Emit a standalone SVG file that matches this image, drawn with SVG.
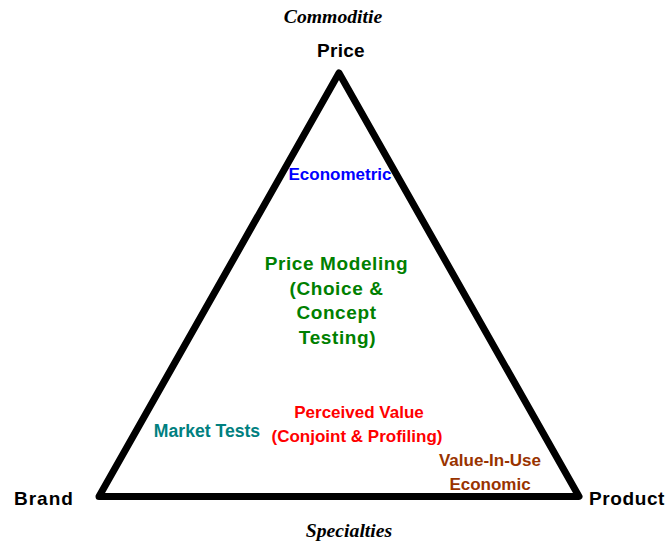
<svg xmlns="http://www.w3.org/2000/svg" width="667" height="543" viewBox="0 0 667 543">
  <style>
    .corner { font-family: "Liberation Sans", Arial, sans-serif; font-weight: bold; font-size: 19px; fill: #000; }
    .pole { font-family: "Liberation Serif", "Times New Roman", serif; font-weight: bold; font-style: italic; font-size: 19.7px; fill: #000; }
    .method { font-family: "Liberation Sans", Arial, sans-serif; font-weight: bold; font-size: 17px; }
    .big { font-size: 19px; letter-spacing: 0.6px; }
    .mid { text-anchor: middle; }
    .edge { fill: none; stroke: #000; stroke-width: 7; stroke-linejoin: round; }
  </style>
  <rect width="667" height="543" fill="#fff"/>

  <!-- pricing triangle -->
  <g id="connectors">
    <polygon class="edge" points="339,73 579,496.5 99,496.5"/>
  </g>

  <!-- vertices -->
  <g id="node-price">
    <text class="pole mid" x="333" y="23">Commoditie</text>
    <text class="corner mid" x="341" y="57" letter-spacing="0.3">Price</text>
  </g>
  <g id="node-brand">
    <text class="corner" x="14" y="505" letter-spacing="1">Brand</text>
  </g>
  <g id="node-product">
    <text class="corner" x="589" y="505" letter-spacing="0.6">Product</text>
    <text class="pole mid" x="349" y="537">Specialties</text>
  </g>

  <!-- methods inside the triangle -->
  <g id="node-econometric">
    <text class="method mid" x="340" y="180" fill="#0000ff">Econometric</text>
  </g>
  <g id="node-price-modeling" fill="#008000">
    <text class="method big mid" x="336.5" y="270">Price Modeling</text>
    <text class="method big mid" x="336.5" y="294.5">(Choice &amp;</text>
    <text class="method big mid" x="336.5" y="319">Concept</text>
    <text class="method big mid" x="337.5" y="343.5">Testing)</text>
  </g>
  <g id="node-market-tests">
    <text class="method mid" x="207" y="437" fill="#008080" style="font-size:17.6px">Market Tests</text>
  </g>
  <g id="node-perceived-value" fill="#ff0000">
    <text class="method mid" x="359" y="418">Perceived Value</text>
    <text class="method mid" x="357" y="442">(Conjoint &amp; Profiling)</text>
  </g>
  <g id="node-value-in-use" fill="#993300">
    <text class="method mid" x="490" y="466">Value-In-Use</text>
    <text class="method mid" x="490" y="490">Economic</text>
  </g>
</svg>
